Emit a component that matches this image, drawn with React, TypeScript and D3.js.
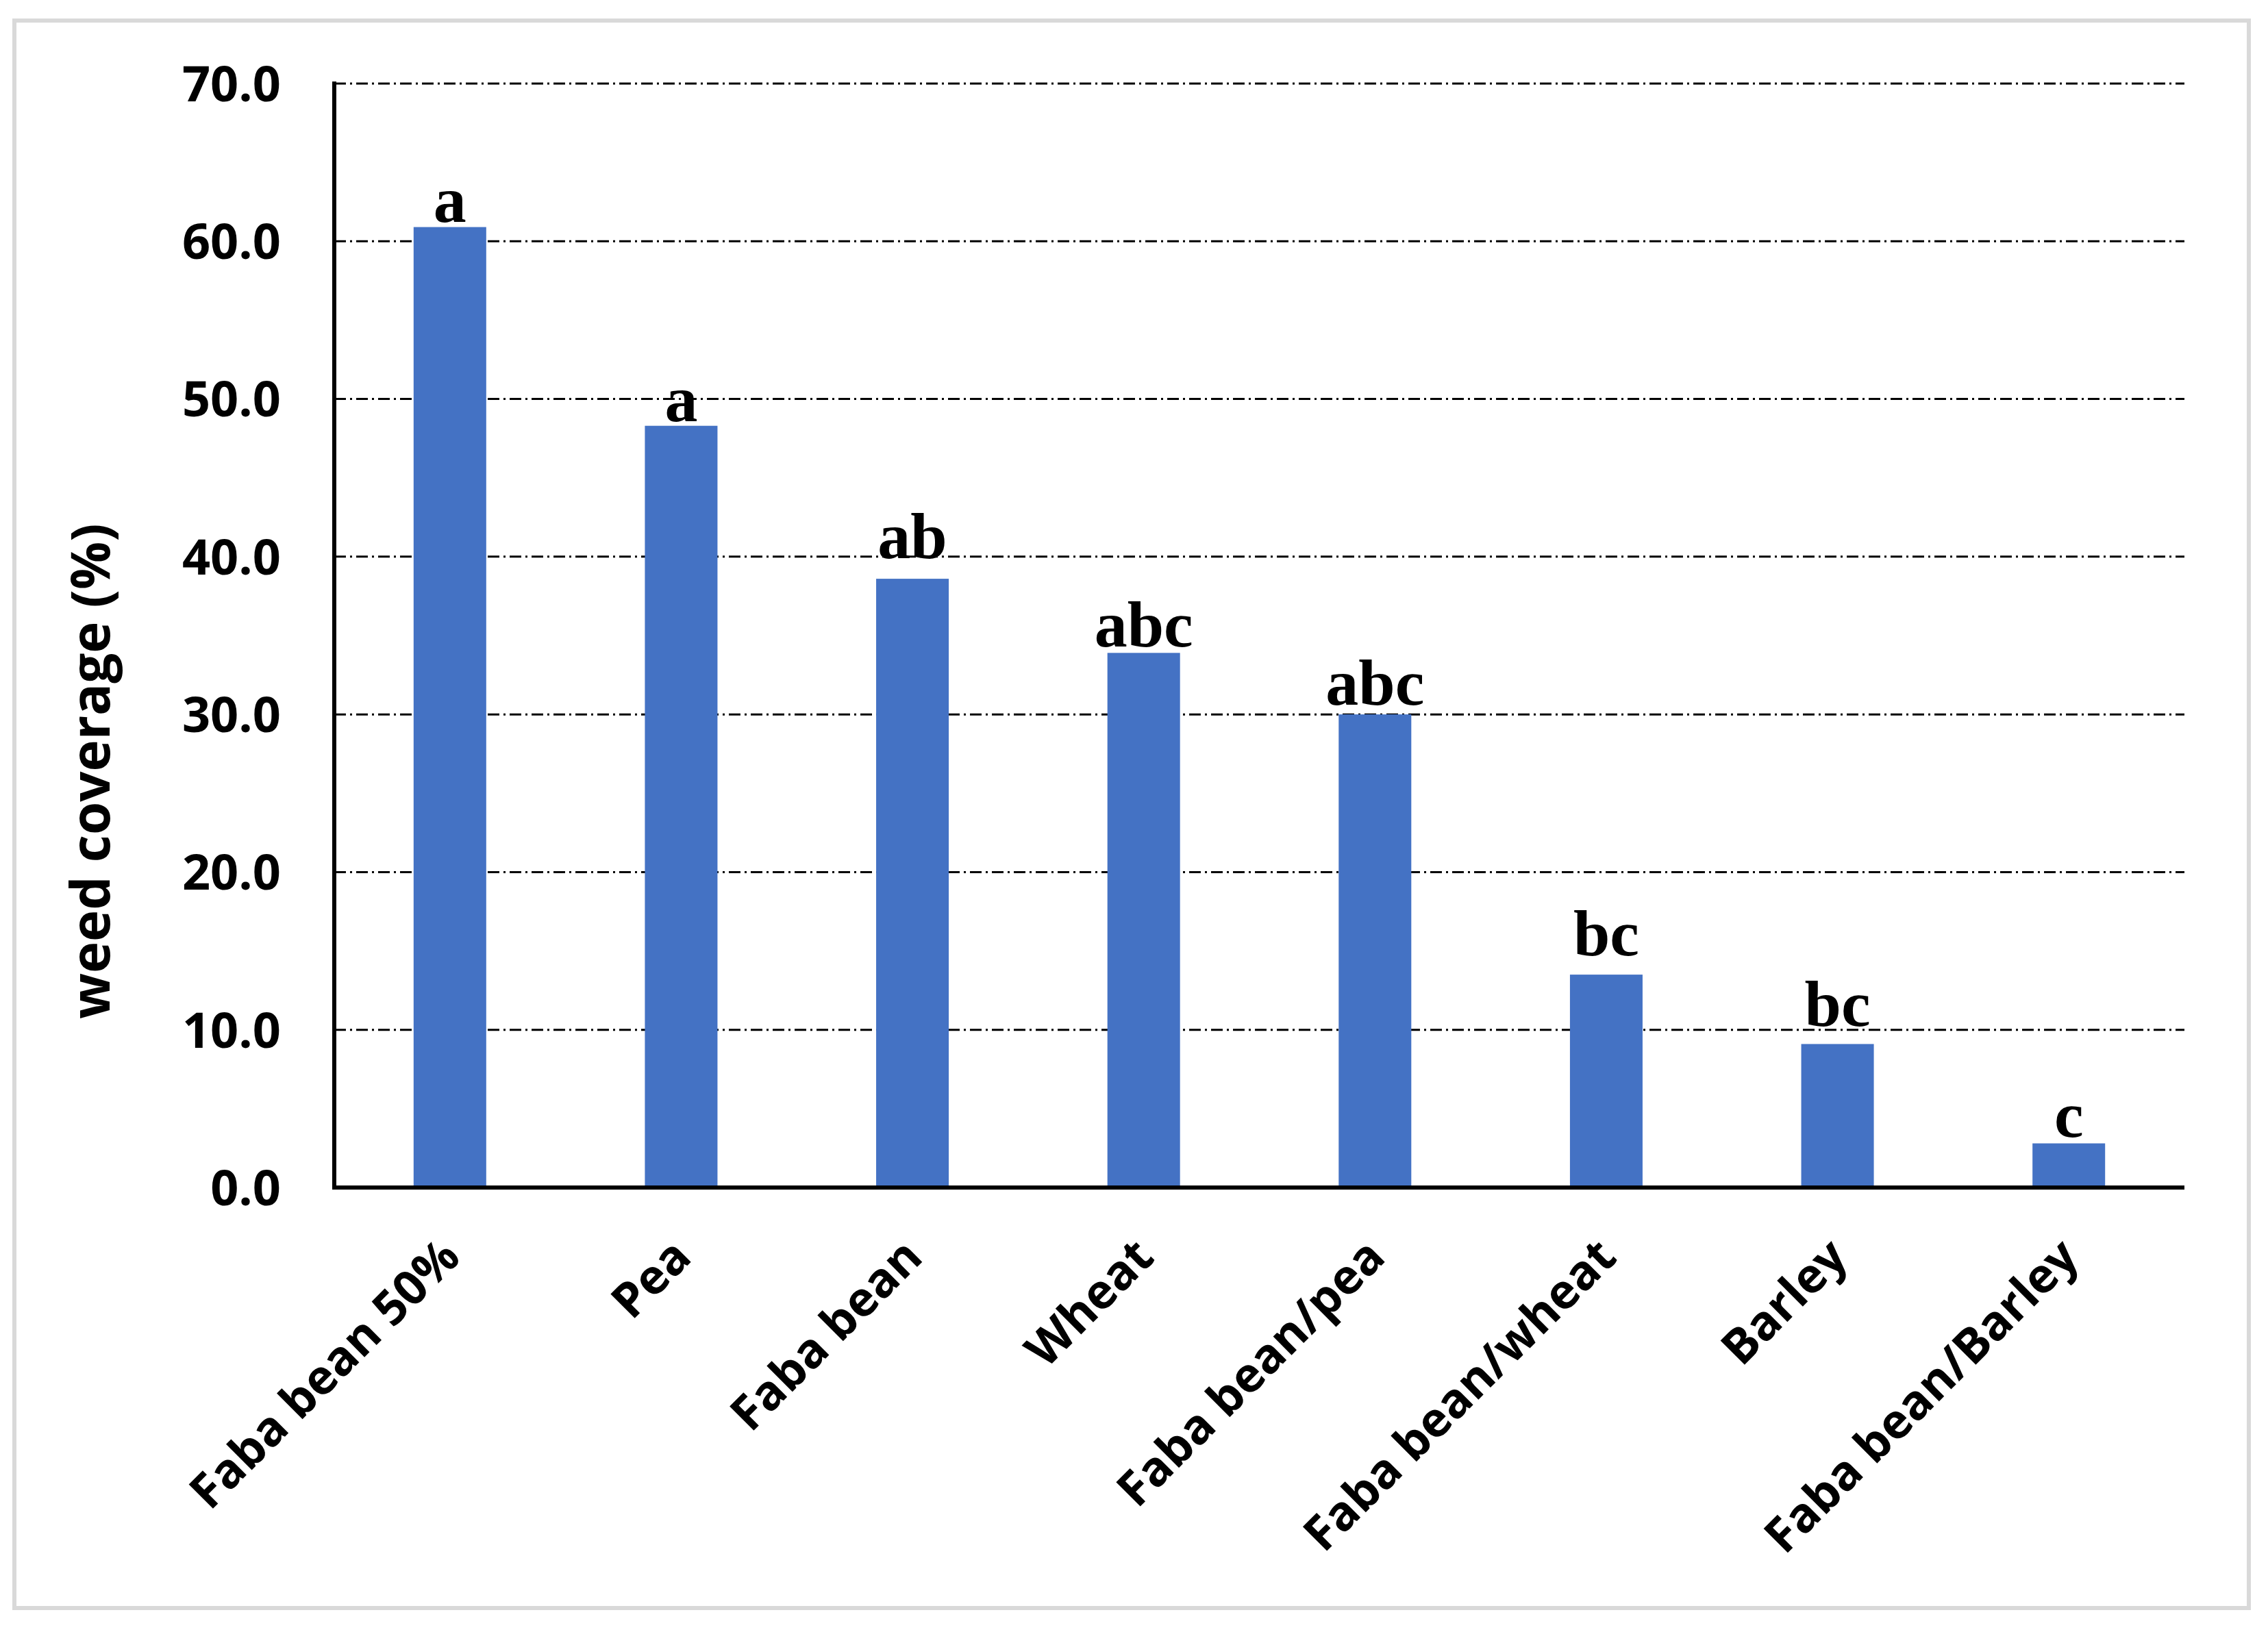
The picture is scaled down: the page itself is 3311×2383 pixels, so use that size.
import React from "react";
import * as d3 from "d3";

const categories = [
  "Faba bean 50%",
  "Pea",
  "Faba bean",
  "Wheat",
  "Faba bean/pea",
  "Faba bean/wheat",
  "Barley",
  "Faba bean/Barley",
];
const coverage = [60.9, 48.3, 38.6, 33.9, 30.0, 13.5, 9.1, 2.8];
const letters = ["a", "a", "ab", "abc", "abc", "bc", "bc", "c"];
const yTicks = [0, 10, 20, 30, 40, 50, 60, 70];

export default function App() {
  const width = 3311;
  const height = 2383;
  const left = 488;
  const right = 3189;
  const top = 122;
  const bottom = 1734;

  const sans = "'Open Sans', 'Noto Sans', sans-serif";
  const serif = "'Liberation Serif', 'Times New Roman', serif";

  // gap between bar top and letter baseline (labels were placed by hand)
  const letterGap = [8, 7, 30, 9, 14, 28, 26, 10];

  const x = d3
    .scaleBand()
    .domain(categories)
    .range([left, right])
    .paddingInner(0.686)
    .paddingOuter(0.343);

  const y = d3.scaleLinear().domain([0, 70]).range([bottom, top]);
  const fmt = d3.format(".1f");

  return (
    <svg
      width={width}
      height={height}
      style={{ position: "absolute", left: 0, top: 0, background: "#fff" }}
    >
      <rect x={0} y={0} width={width} height={height} fill="#fff" />
      {/* chart border */}
      <rect
        x={21}
        y={30}
        width={3262}
        height={2318}
        fill="none"
        stroke="#d9d9d9"
        strokeWidth={6}
      />

      {/* gridlines */}
      {yTicks
        .filter((t) => t > 0)
        .map((t) => (
          <line
            key={"g" + t}
            x1={left}
            x2={right}
            y1={y(t)}
            y2={y(t)}
            stroke="#000"
            strokeWidth={3}
            strokeDasharray="17 6 3 6"
          />
        ))}

      {/* bars */}
      {categories.map((c, i) => (
        <rect
          key={c}
          x={x(c)}
          y={y(coverage[i])}
          width={x.bandwidth()}
          height={bottom - y(coverage[i])}
          fill="#4472C4"
        />
      ))}

      {/* significance letters */}
      {categories.map((c, i) => (
        <text
          key={"l" + c}
          x={(x(c) as number) + x.bandwidth() / 2}
          y={y(coverage[i]) - letterGap[i]}
          textAnchor="middle"
          fontFamily={serif}
          fontWeight={700}
          fontSize={96}
          fill="#000"
        >
          {letters[i]}
        </text>
      ))}

      {/* axes */}
      <line x1={left} x2={left} y1={top - 3} y2={bottom + 3} stroke="#000" strokeWidth={6} />
      <line x1={left - 3} x2={right} y1={bottom} y2={bottom} stroke="#000" strokeWidth={6} />

      {/* y tick labels */}
      {yTicks.map((t) => (
        <text
          key={"t" + t}
          x={410}
          y={y(t)}
          dy="0.36em"
          textAnchor="end"
          fontFamily={sans}
          fontWeight={700}
          fontSize={72}
          fill="#000"
        >
          {fmt(t)}
        </text>
      ))}

      {/* x labels */}
      {categories.map((c) => {
        const cx = (x(c) as number) + x.bandwidth() / 2 + 18;
        const cy = bottom + 105;
        return (
          <text
            key={"x" + c}
            transform={`translate(${cx},${cy}) rotate(-45)`}
            textAnchor="end"
            fontFamily={sans}
            fontWeight={700}
            fontSize={70}
            fill="#000"
          >
            {c}
          </text>
        );
      })}

      {/* y title */}
      <text
        transform={`translate(160,1126) rotate(-90)`}
        textAnchor="middle"
        fontFamily={sans}
        fontWeight={700}
        fontSize={78}
        fill="#000"
      >
        weed coverage (%)
      </text>
    </svg>
  );
}
